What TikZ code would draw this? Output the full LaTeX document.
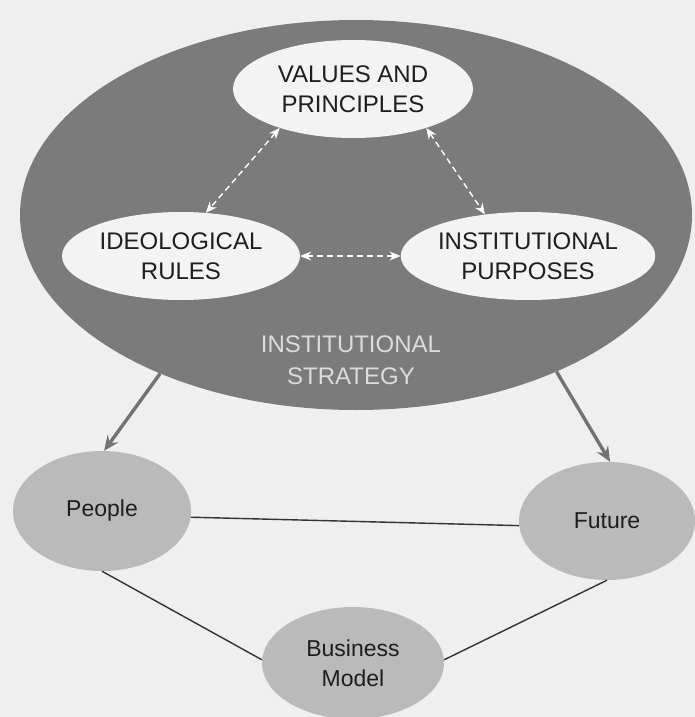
\documentclass[tikz,border=0pt]{standalone}
\usepackage{fontspec}
\setmainfont{Liberation Sans}
\usetikzlibrary{arrows.meta,shapes.geometric}
\definecolor{pagebg}{HTML}{EFEFEF}
\definecolor{outerfill}{HTML}{7B7B7B}
\definecolor{innerfill}{HTML}{F3F3F3}
\definecolor{discfill}{HTML}{BABABA}
\definecolor{inktext}{HTML}{1E1E1E}
\definecolor{paletext}{HTML}{DCDCDC}
\definecolor{greyline}{HTML}{737373}
\tikzset{
  bigoval/.style={ellipse, fill=outerfill, inner sep=0pt},
  whiteoval/.style={ellipse, fill=innerfill, inner sep=0pt, align=center,
    text=inktext, font=\fontsize{24}{30}\selectfont},
  disc/.style={ellipse, fill=discfill, inner sep=0pt, align=center,
    text=inktext, font=\fontsize{23}{30}\selectfont},
  linkarrow/.style={draw=white, line width=1.4pt, dash pattern=on 6pt off 4pt,
    {Stealth[length=11pt,width=9pt,fill=white]}-{Stealth[length=11pt,width=9pt,fill=white]}},
  feedarrow/.style={draw=greyline, line width=3.4pt,
    -{Stealth[length=15pt,width=13pt,inset=5pt]}},
  tie/.style={draw=black!80, line width=1.4pt}
}
\begin{document}
\begin{tikzpicture}[x=1pt,y=-1pt]
\useasboundingbox[fill=pagebg] (0,0) rectangle (695,717);

% outer strategy oval and its three inner parts
\node[bigoval, minimum width=672pt, minimum height=390pt] (strategy) at (356,215) {};
\node[whiteoval, minimum width=240pt, minimum height=98pt] (vp) at (353,89)
  {VALUES AND\\PRINCIPLES};
\node[whiteoval, minimum width=238pt, minimum height=88pt] (ir) at (181,256)
  {IDEOLOGICAL\\RULES};
\node[whiteoval, minimum width=252pt, minimum height=88pt] (ip) at (528,256)
  {INSTITUTIONAL\\PURPOSES};
\node[text=paletext, align=center, font=\fontsize{24}{32}\selectfont] (stratlabel)
  at (351,360) {INSTITUTIONAL\\STRATEGY};

% two-way links inside the strategy
\draw[linkarrow] (vp.208) -- (ir.60);
\draw[linkarrow] (vp.332) -- (ip.136);
\draw[linkarrow] (ir.east) -- (ip.west);

% outcomes
\node[disc, minimum width=178pt, minimum height=120pt] (people) at (102,511) {People};
\node[disc, minimum width=176pt, minimum height=118pt] (future) at (607,521) {Future};
\node[disc, minimum width=182pt, minimum height=112pt] (bm) at (353,663) {Business\\Model};

\draw[feedarrow] (strategy.219) -- (people.88);
\draw[feedarrow] (strategy.322) -- (future.87);

\draw[tie] (people.-4) -- (future.183);
\draw[tie] (people.south) -- (bm.178);
\draw[tie] (future.south) -- (bm.2);
\end{tikzpicture}
\end{document}
